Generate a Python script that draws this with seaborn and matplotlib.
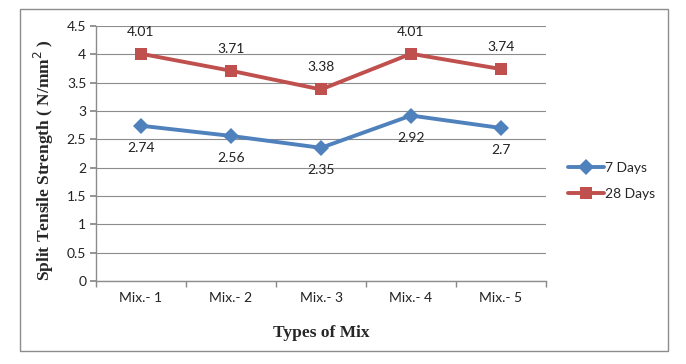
import matplotlib
matplotlib.use("Agg")
import matplotlib.pyplot as plt
import seaborn as sns
import pandas as pd
from matplotlib.patches import Rectangle

categories = ["Mix.- 1", "Mix.- 2", "Mix.- 3", "Mix.- 4", "Mix.- 5"]
days7 = [2.74, 2.56, 2.35, 2.92, 2.70]
days28 = [4.01, 3.71, 3.38, 4.01, 3.74]
labels7 = ["2.74", "2.56", "2.35", "2.92", "2.7"]
labels28 = ["4.01", "3.71", "3.38", "4.01", "3.74"]

sns.set_theme(style="white")
plt.rcParams['font.family'] = ['Lato', 'DejaVu Sans']

df = pd.DataFrame({
    "Mix": categories * 2,
    "Strength": days7 + days28,
    "Series": ["7 Days"] * 5 + ["28 Days"] * 5,
})

fig = plt.figure(figsize=(6.86, 3.64), dpi=100)
ax = fig.add_axes([96/686, 1-281/364, 450/686, 255/364])

palette = {"7 Days": "#4F81BD", "28 Days": "#C0504D"}
sns.lineplot(data=df, x="Mix", y="Strength", hue="Series", style="Series",
             markers={"7 Days": "D", "28 Days": "s"}, dashes=False,
             palette=palette, linewidth=2.8, markersize=8, markeredgewidth=0,
             sort=False, ax=ax)

ax.set_xlim(-0.5, 4.5)
ax.set_ylim(0, 4.5)
ax.set_yticks([0, 0.5, 1, 1.5, 2, 2.5, 3, 3.5, 4, 4.5])
ax.set_yticklabels(["0", "0.5", "1", "1.5", "2", "2.5", "3", "3.5", "4", "4.5"])
ax.set_xticks(range(5))
ax.set_xticklabels(categories)
ax.set_xticks([-0.5 + i for i in range(6)], minor=True)
ax.tick_params(axis="x", which="major", length=0, pad=8, labelsize=10, colors="#222222")
ax.tick_params(axis="x", which="minor", length=4, color="#888888", width=1, bottom=True)
ax.tick_params(axis="y", which="major", length=4, color="#888888", left=True, labelsize=10, colors="#222222", pad=3)
ax.yaxis.grid(True, color="#8c8c8c", linewidth=0.8)
ax.xaxis.grid(False)
for s in ["top", "right"]:
    ax.spines[s].set_visible(False)
for s in ["left", "bottom"]:
    ax.spines[s].set_color("#8c8c8c")
    ax.spines[s].set_linewidth(1)
ax.set_axisbelow(True)

for i, (v, t) in enumerate(zip(days7, labels7)):
    ax.annotate(t, (i, v), xytext=(0, -16), textcoords="offset points",
                ha="center", va="center", fontsize=10, color="#222222")
for i, (v, t) in enumerate(zip(days28, labels28)):
    ax.annotate(t, (i, v), xytext=(0, 16), textcoords="offset points",
                ha="center", va="center", fontsize=10, color="#222222")

ax.set_xlabel("Types of Mix", fontsize=12.5, fontweight="bold",
              family=["Liberation Serif"], labelpad=15)
ax.set_ylabel("Split Tensile Strength ( N/mm$^2$ )", fontsize=12.5, fontweight="bold",
              family=["Liberation Serif"])
ax.yaxis.set_label_coords(-0.088, 0.475)

handles, lbls = ax.get_legend_handles_labels()
leg = ax.legend(handles, lbls, loc="center left", bbox_to_anchor=(555/686, 1-181/364),
                bbox_transform=fig.transFigure, frameon=False, fontsize=10,
                handlelength=2.6, handletextpad=0.1, labelspacing=1.0)

fig.patches.append(Rectangle((20/686, 1-351/364), 648/686, 342/364, transform=fig.transFigure,
                             fill=False, edgecolor="#8c8c8c", linewidth=1))

fig.savefig("out.png", dpi=100, facecolor="white")
